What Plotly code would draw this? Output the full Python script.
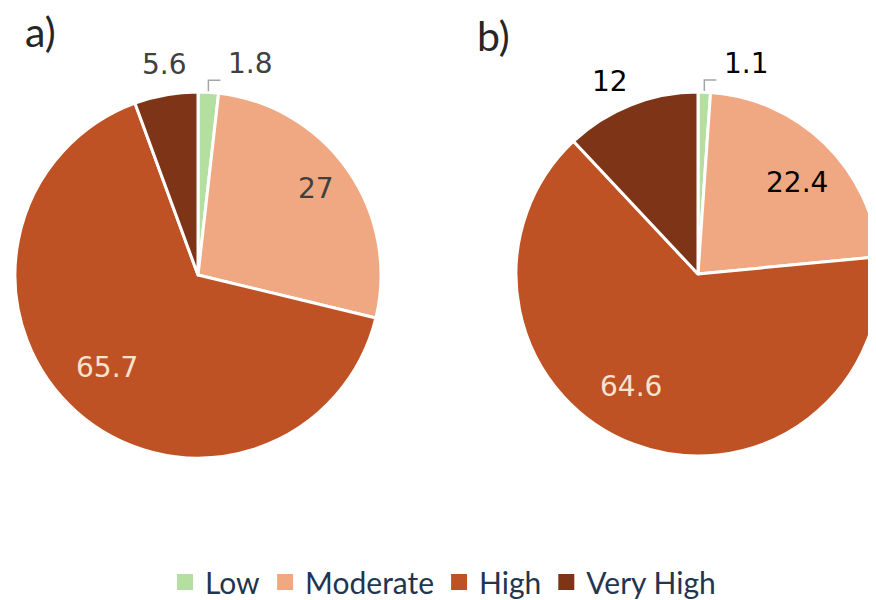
import math
import plotly.graph_objects as go

categories = ["Low", "Moderate", "High", "Very High"]
values_a = [1.8, 27, 65.7, 5.6]
values_b = [1.1, 22.4, 64.6, 12]
text_a = ["1.8", "27", "65.7", "5.6"]
text_b = ["1.1", "22.4", "64.6", "12"]
colors = ["#b3e0a0", "#f0a882", "#bf5224", "#7e3416"]

# label style per slice: "leader" (outside with bracket), "inside", "outside"
label_mode = ["leader", "inside", "inside", "outside"]
label_rfrac_a = [0, 0.80, 0.71, 0]
label_rfrac_b = [0, 0.74, 0.72, 0]
label_turn_a = [0, -1, 3, 1]      # small angular nudges of the label (degrees)
label_turn_b = [0, 3, 10, -3]
label_color_a = ["#404040", "#404040", "#fbe1d0", "#404040"]
label_color_b = ["#000000", "#000000", "#fbe1d0", "#000000"]

W, H = 876, 600
OFF = 8  # page body margin of the browser
LABEL_FONT = "DejaVu Sans"
LABEL_SIZE = 28

# pie geometry in screen pixels (centre x, centre y, radius)
geo_a = (198, 275, 183)
geo_b = (698, 274, 182)


def px(x):
    return (x - OFF) / W


def py(y):
    return 1 - (y - OFF) / H


def domain(g):
    cx, cy, r = g
    return dict(x=[px(cx - r), min(1.0, px(cx + r))], y=[py(cy + r), py(cy - r)])


def point(g, ang, rad):
    cx, cy, _ = g
    a = math.radians(ang)
    return cx + rad * math.sin(a), cy - rad * math.cos(a)


fig = go.Figure()
annotations = []
shapes = []

for vals, texts, g, fracs, turns, tcols in [
    (values_a, text_a, geo_a, label_rfrac_a, label_turn_a, label_color_a),
    (values_b, text_b, geo_b, label_rfrac_b, label_turn_b, label_color_b),
]:
    fig.add_trace(go.Pie(
        labels=categories, values=vals, textinfo="none",
        sort=False, direction="clockwise", rotation=0,
        marker=dict(colors=colors, line=dict(color="white", width=3)),
        domain=domain(g), hoverinfo="label+value", showlegend=False,
    ))
    total = sum(vals)
    cum = 0
    r = g[2]
    for v, t, mode, f, turn, c in zip(vals, texts, label_mode, fracs, turns, tcols):
        mid = (cum + v / 2) / total * 360
        cum += v
        font = dict(family=LABEL_FONT, size=LABEL_SIZE, color=c)
        if mode == "inside":
            x, y = point(g, mid + turn, f * r)
            annotations.append(dict(text=t, x=px(x), y=py(y), xref="paper", yref="paper",
                                    showarrow=False, font=font,
                                    xanchor="center", yanchor="middle"))
        elif mode == "outside":
            x, y = point(g, mid + turn, r + 30)
            annotations.append(dict(text=t, x=px(x), y=py(y), xref="paper", yref="paper",
                                    showarrow=False, font=font,
                                    xanchor="center", yanchor="middle"))
        else:
            x0, y0 = point(g, mid, r + 1)
            y1 = y0 - 11
            x2 = x0 + 12
            shapes.append(dict(type="path", xref="paper", yref="paper",
                               path=f"M {px(x0)},{py(y0)} L {px(x0)},{py(y1)} L {px(x2)},{py(y1)}",
                               line=dict(color="#a6a6a6", width=1.5)))
            annotations.append(dict(text=t, x=px(x2 + 6), y=py(y1 - 17), xref="paper", yref="paper",
                                    showarrow=False, font=font,
                                    xanchor="left", yanchor="middle"))

# legend entries
for cat, col in zip(categories, colors):
    fig.add_trace(go.Scatter(
        x=[None], y=[None], mode="markers", name=cat,
        marker=dict(symbol="square", size=19, color=col, line=dict(width=0)),
        showlegend=True, hoverinfo="skip",
    ))

annotations += [
    dict(text="a)", x=px(23), y=py(31), xref="paper", yref="paper",
         xanchor="left", yanchor="middle", showarrow=False,
         font=dict(family="Lato", size=41, color="#262626")),
    dict(text="b)", x=px(475), y=py(36), xref="paper", yref="paper",
         xanchor="left", yanchor="middle", showarrow=False,
         font=dict(family="Lato", size=41, color="#262626")),
]

fig.update_layout(
    width=W, height=H,
    margin=dict(l=0, r=0, t=0, b=0),
    paper_bgcolor="white", plot_bgcolor="white",
    xaxis=dict(visible=False), yaxis=dict(visible=False),
    legend=dict(orientation="h", x=px(443), xanchor="center", y=py(582), yanchor="middle",
                font=dict(family="Lato", size=30, color="#1f3550"),
                traceorder="normal", itemclick=False, itemdoubleclick=False),
    annotations=annotations,
    shapes=shapes,
)

fig.write_html("out.html")
